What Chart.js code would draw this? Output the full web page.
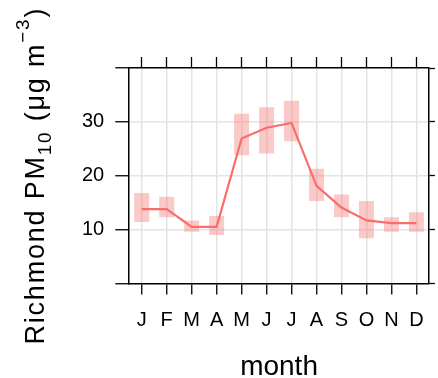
<!DOCTYPE html>
<html>
<head>
<meta charset="utf-8">
<script src="https://cdn.jsdelivr.net/npm/chart.js@4"></script>
<style>
  html, body { margin: 0; padding: 0; background: #fff; }
  #wrap { width: 438px; height: 378px; }
</style>
</head>
<body>
<div id="wrap"><canvas id="myChart" width="438" height="378"></canvas></div>
<script>
// months along the x axis
var months = ['J', 'F', 'M', 'A', 'M', 'J', 'J', 'A', 'S', 'O', 'N', 'D'];
// monthly mean PM10 (the red line)
var pmMean = [13.8, 13.8, 10.5, 10.5, 26.9, 28.9, 29.8, 18.1, 14.1, 11.7, 11.2, 11.2];
// lower / upper ends of the shaded boxes
var pmLower = [11.4, 12.3, 9.6, 9.0, 23.8, 24.1, 26.4, 15.3, 12.3, 8.4, 9.6, 9.6];
var pmUpper = [16.8, 16.1, 11.7, 12.5, 31.5, 32.7, 33.9, 21.3, 16.5, 15.3, 12.3, 13.2];
// y ticks that get a label
var yLabels = [10, 20, 30];

var FONT = "'Liberation Sans', Arial, sans-serif";

var pmRanges = pmLower.map(function (lo, i) { return [lo, pmUpper[i]]; });

// y axis title with sub/superscripts, drawn as text pieces
var titleParts = [
  { text: 'Richmond PM', scale: 1, dy: 0 },
  { text: '10', scale: 0.7, dy: 6.8 },
  { text: ' (\u03bcg m', scale: 1, dy: 0 },
  { text: '\u22123', scale: 0.7, dy: -15.5 },
  { text: ')', scale: 1, dy: 0 }
];

var yTitlePlugin = {
  id: 'yTitle',
  afterDraw: function (chart) {
    var ctx = chart.ctx;
    var size = 27;
    ctx.save();
    ctx.letterSpacing = '1.8px';
    var total = 0;
    titleParts.forEach(function (p) {
      ctx.font = (size * p.scale) + 'px ' + FONT;
      total += ctx.measureText(p.text).width;
    });
    var mid = (chart.chartArea.top + chart.chartArea.bottom) / 2;
    ctx.translate(44, mid + total / 2);
    ctx.rotate(-Math.PI / 2);
    ctx.fillStyle = '#000';
    ctx.textBaseline = 'alphabetic';
    var x = 0;
    titleParts.forEach(function (p) {
      ctx.font = (size * p.scale) + 'px ' + FONT;
      ctx.fillText(p.text, x, p.dy);
      x += ctx.measureText(p.text).width;
    });
    ctx.restore();
  }
};

function gridColor(ctx) {
  var v = ctx.tick ? ctx.tick.value : null;
  if (v === 0 || v === 40) return 'rgba(0,0,0,0)';
  return '#e4e4e4';
}

var ctx = document.getElementById('myChart');
var myChart = new Chart(ctx, {
  type: 'bar',
  data: {
    labels: months,
    datasets: [{
      type: 'line',
      label: 'mean',
      data: pmMean,
      borderColor: '#f96d6d',
      borderWidth: 2.2,
      pointRadius: 0,
      tension: 0,
      fill: false,
      order: 0
    }, {
      type: 'bar',
      label: 'range',
      data: pmRanges,
      backgroundColor: 'rgba(247,120,120,0.4)',
      borderWidth: 0,
      barPercentage: 0.6,
      categoryPercentage: 1,
      grouped: false,
      order: 1
    }]
  },
  options: {
    responsive: false,
    animation: false,
    layout: { padding: { left: 71, top: 57, right: -4, bottom: 0 } },
    plugins: { legend: { display: false }, tooltip: { enabled: false } },
    scales: {
      x: {
        type: 'category',
        position: 'bottom',
        offset: true,
        grid: { offset: false, color: '#e4e4e4', lineWidth: 1.5, tickColor: '#000', tickLength: 11, tickWidth: 1.3 },
        border: { color: '#000', width: 1.5 },
        ticks: { color: '#000', font: { family: FONT, size: 20 }, padding: 14, maxRotation: 0, autoSkip: false },
        title: { display: true, text: 'month', color: '#000', font: { family: FONT, size: 28 }, padding: { top: 4, bottom: -6 } }
      },
      x2: {
        type: 'category',
        labels: months,
        position: 'top',
        offset: true,
        grid: { offset: false, drawOnChartArea: false, tickColor: '#000', tickLength: 11, tickWidth: 1.3 },
        border: { color: '#000', width: 1.5 },
        ticks: { display: false }
      },
      y: {
        type: 'linear',
        position: 'left',
        min: 0,
        max: 40,
        grid: { color: gridColor, lineWidth: 1.5, tickColor: '#000', tickLength: 14, tickWidth: 1.3 },
        border: { color: '#000', width: 1.5 },
        ticks: {
          stepSize: 10,
          color: '#000',
          font: { family: FONT, size: 20 },
          padding: 11,
          callback: function (v) { return yLabels.indexOf(v) >= 0 ? String(v) : ''; }
        }
      },
      y2: {
        type: 'linear',
        position: 'right',
        min: 0,
        max: 40,
        grid: { drawOnChartArea: false, tickColor: '#000', tickLength: 6, tickWidth: 1.3 },
        border: { color: '#000', width: 1.5 },
        ticks: { display: false, stepSize: 10 }
      }
    }
  },
  plugins: [yTitlePlugin]
});
</script>
</body>
</html>
